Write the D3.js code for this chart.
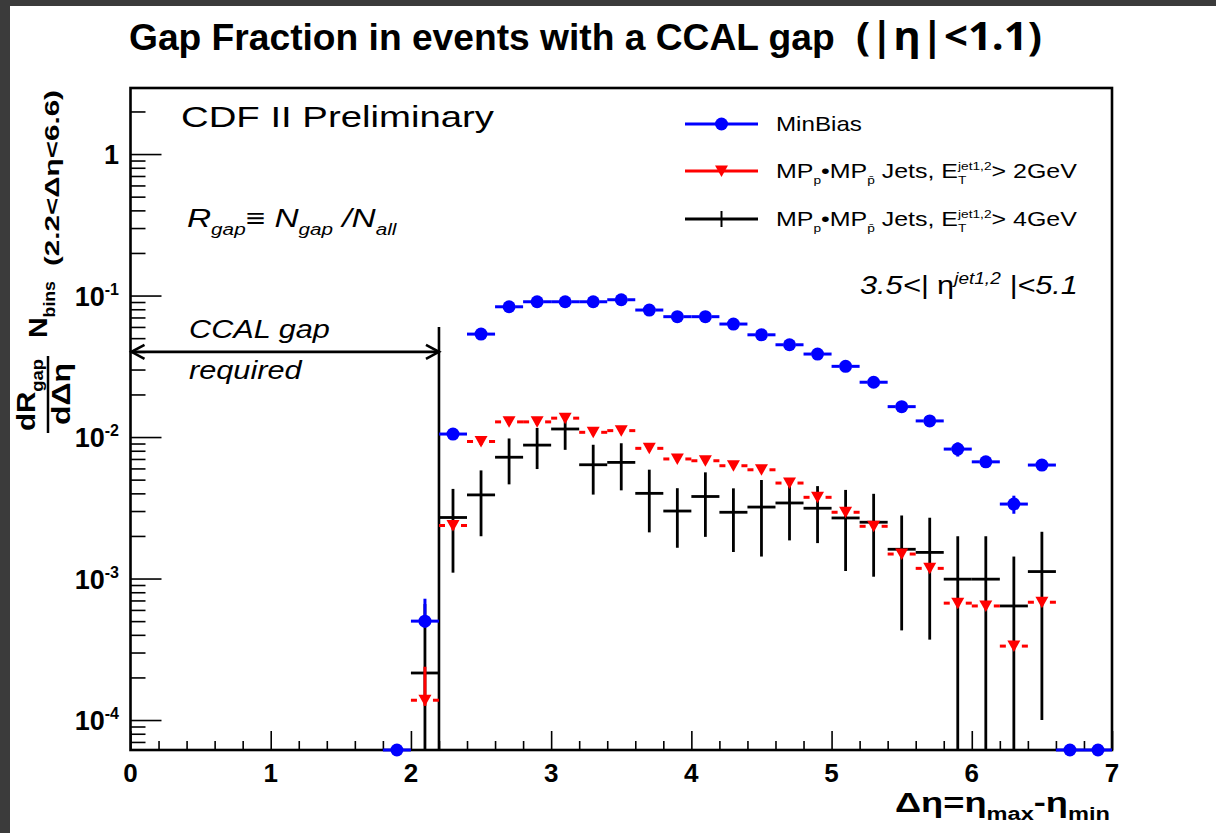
<!DOCTYPE html>
<html><head><meta charset="utf-8">
<script src="https://cdn.jsdelivr.net/npm/d3@7"></script>
<style>
html,body{margin:0;padding:0;background:#fff;}
svg{display:block;}
text{font-family:"Liberation Sans",Arial,Helvetica,sans-serif;white-space:pre;}
</style></head><body>
<svg id="chart" width="1216" height="833"></svg>
<script>
// ---------------- data ----------------
const binCenters = [1.9,2.1,2.3,2.5,2.7,2.9,3.1,3.3,3.5,3.7,3.9,4.1,4.3,4.5,4.7,4.9,5.1,5.3,5.5,5.7,5.9,6.1,6.3,6.5,6.7,6.9];
const binHalfWidth = 0.1;
const minBias      = [0,5.0e-4,1.05e-2,5.34e-2,8.33e-2,9.04e-2,9.04e-2,9.04e-2,9.34e-2,7.9e-2,7.09e-2,7.09e-2,6.29e-2,5.28e-2,4.49e-2,3.86e-2,3.16e-2,2.44e-2,1.64e-2,1.30e-2,8.22e-3,6.68e-3,3.36e-3,6.34e-3,0,0];
const minBiasErrUp   = [0,2.2e-4,3e-4,1e-3,1.5e-3,1.5e-3,1.5e-3,1.5e-3,1.5e-3,1.3e-3,1.2e-3,1.2e-3,1.1e-3,1e-3,9e-4,8e-4,7e-4,6e-4,5e-4,4.5e-4,9.4e-4,5e-4,4.9e-4,5e-4,0,0];
const minBiasErrDown = [0,5e-5,3e-4,1e-3,1.5e-3,1.5e-3,1.5e-3,1.5e-3,1.5e-3,1.3e-3,1.2e-3,1.2e-3,1.1e-3,1e-3,9e-4,8e-4,7e-4,6e-4,5e-4,4.5e-4,9.4e-4,5e-4,4.9e-4,5e-4,0,0];
const jets2GeV        = [null,1.38e-4,2.37e-3,9.3e-3,1.28e-2,1.28e-2,1.36e-2,1.08e-2,1.11e-2,8.32e-3,7.0e-3,6.8e-3,6.27e-3,5.87e-3,4.73e-3,3.75e-3,2.94e-3,2.34e-3,1.49e-3,1.18e-3,6.7e-4,6.4e-4,3.33e-4,6.8e-4,null,null];
const jets2GeVErrUp   = [null,1.0e-4,1.6e-4,5e-4,6e-4,6e-4,6e-4,5e-4,5e-4,4e-4,3.5e-4,3.4e-4,3.1e-4,2.9e-4,2.4e-4,1.9e-4,1.5e-4,1.2e-4,8e-5,6e-5,3.5e-5,3.3e-5,1.8e-5,3.5e-5,null,null];
const jets2GeVErrDown = [null,1.2e-5,1.6e-4,5e-4,6e-4,6e-4,6e-4,5e-4,5e-4,4e-4,3.5e-4,3.4e-4,3.1e-4,2.9e-4,2.4e-4,1.9e-4,1.5e-4,1.2e-4,8e-5,6e-5,3.5e-5,3.3e-5,1.8e-5,3.5e-5,null,null];
const jets4GeV    = [null,2.15e-4,2.7e-3,3.9e-3,7.2e-3,8.77e-3,1.14e-2,6.37e-3,6.62e-3,4.0e-3,3.0e-3,3.8e-3,2.94e-3,3.2e-3,3.42e-3,3.14e-3,2.68e-3,2.5e-3,1.61e-3,1.53e-3,9.9e-4,9.9e-4,6.4e-4,1.12e-3,null,null];
const jets4GeVErr = [null,4.45e-4,1.6e-3,1.91e-3,2.57e-3,2.83e-3,3.28e-3,2.45e-3,2.42e-3,1.88e-3,1.35e-3,1.83e-3,1.4e-3,1.77e-3,1.56e-3,1.36e-3,1.55e-3,1.47e-3,1.18e-3,1.16e-3,1.0e-3,1.0e-3,7.9e-4,1.02e-3,null,null];
const xTicks = [0,1,2,3,4,5,6,7];
const yTickExps = [-4,-3,-2,-1,0];
const xDomain = [0,7];
const yDomain = [6.14e-5, 2.93];
const gapEdge = 2.2, gapLineTop = 0.06, arrowLevel = 0.04;

// ---------------- setup ----------------
const svg = d3.select("#chart");
svg.append("rect").attr("width",1216).attr("height",833).attr("fill","#3b3b3b");
svg.append("rect").attr("x",10).attr("y",6).attr("width",1206).attr("height",827).attr("fill","#fff");

const x = d3.scaleLinear().domain(xDomain).range([130.5,1112]);
const y = d3.scaleLog().domain(yDomain).range([750,88]).clamp(true);
const yb = y.range()[0];
const yv = v => v > 0 ? y(v) : yb;

function fitWidth(sel, left, width){
  const bb = sel.node().getBBox();
  const s = width / bb.width;
  sel.attr("transform", `translate(${left},0) scale(${s},1) translate(${-bb.x},0)`);
}
function rich(parent, px, py, fs, parts, attrs){
  const t = parent.append("text").attr("x",px).attr("y",py).attr("font-size",fs);
  if (attrs) for (const k in attrs) t.attr(k, attrs[k]);
  let cur = 0, lastSupW = 0, pendingDx = 0;
  parts.forEach(p => {
    const kind = p.k || "n";
    const size = kind === "n" ? fs : fs*(p.r || 0.62);
    const off = kind === "sup" ? -fs*0.4 : (kind === "sub" || kind === "stack") ? fs*0.3 : 0;
    const ts = t.append("tspan").text(p.t).attr("font-size", size).attr("dy", off - cur);
    if (p.style) ts.attr("font-style", p.style);
    cur = off;
    let dx = pendingDx; pendingDx = 0;
    if (kind === "stack") dx -= lastSupW;
    if (dx) ts.attr("dx", dx);
    const w = ts.node().getComputedTextLength();
    if (kind === "sup") lastSupW = w;
    if (kind === "stack") pendingDx = Math.max(0, lastSupW - w);
  });
  return t;
}

// ---------------- frame & axes ----------------
const gx = svg.append("g");
gx.append("g").attr("transform",`translate(0,${yb})`)
  .call(d3.axisBottom(x).tickValues(xTicks).tickSize(-19).tickFormat(""))
  .call(g => g.select(".domain").remove())
  .selectAll("line").attr("stroke","#000").attr("stroke-width",1.6);
const xMinor = d3.range(1,35).map(i => i*0.2).filter(v => Math.abs(v-Math.round(v))>1e-6);
gx.append("g").attr("transform",`translate(0,${yb})`)
  .call(d3.axisBottom(x).tickValues(xMinor).tickSize(-9).tickFormat(""))
  .call(g => g.select(".domain").remove())
  .selectAll("line").attr("stroke","#000").attr("stroke-width",1.6);

const yMajor = yTickExps.map(e => Math.pow(10,e));
const yMinor = [];
for (let e=-5; e<=0; e++) for (let k=2; k<=9; k++){ const v=k*Math.pow(10,e); if (v>yDomain[0] && v<yDomain[1]) yMinor.push(v); }
const gy = svg.append("g").attr("transform",`translate(${x.range()[0]},0)`);
gy.append("g").call(d3.axisLeft(y).tickValues(yMajor).tickSize(-31).tickFormat(""))
  .call(g => g.select(".domain").remove())
  .selectAll("line").attr("stroke","#000").attr("stroke-width",1.6);
gy.append("g").call(d3.axisLeft(y).tickValues(yMinor).tickSize(-15).tickFormat(""))
  .call(g => g.select(".domain").remove())
  .selectAll("line").attr("stroke","#000").attr("stroke-width",1.6);

svg.append("rect").attr("x",x.range()[0]).attr("y",y.range()[1])
  .attr("width",x.range()[1]-x.range()[0]).attr("height",yb-y.range()[1])
  .attr("fill","none").attr("stroke","#000").attr("stroke-width",2.6);

// tick labels
xTicks.forEach(t => {
  svg.append("text").attr("x",x(t)).attr("y",yb+32).attr("text-anchor","middle")
    .attr("font-size",26).attr("font-weight","bold").text(t);
});
yTickExps.forEach(e => {
  const yy = y(Math.pow(10,e)) + 10;
  if (e === 0) {
    svg.append("text").attr("x",119).attr("y",yy).attr("text-anchor","end")
      .attr("font-size",27).attr("font-weight","bold").text("1");
  } else {
    const t = svg.append("text").attr("x",119).attr("y",yy).attr("text-anchor","end")
      .attr("font-size",27).attr("font-weight","bold");
    t.append("tspan").text("10");
    t.append("tspan").attr("font-size",16).attr("dy",-11).text(String(e));
  }
});

// axis titles
const xt = rich(svg, 0, 812, 27, [
  {t:"Δη=η"},{t:"max",k:"sub",r:0.65},{t:"-η"},{t:"min",k:"sub",r:0.65}
], {"font-weight":"bold"});
fitWidth(xt, 895, 215);

const gyl = svg.append("g").attr("transform","rotate(-90)");
const numr = rich(gyl, 0, 35, 26, [{t:"dR"},{t:"gap",k:"sub"}], {"font-weight":"bold"});
fitWidth(numr, -431, 72);
gyl.append("line").attr("x1",-433).attr("x2",-356).attr("y1",48).attr("y2",48)
  .attr("stroke","#000").attr("stroke-width",2.5);
const denr = rich(gyl, 0, 70, 26, [{t:"dΔη"}], {"font-weight":"bold"});
fitWidth(denr, -425, 62);
const nb = rich(gyl, 0, 47, 26, [{t:"N"},{t:"bins",k:"sub"}], {"font-weight":"bold"});
fitWidth(nb, -338, 57);
gyl.append("text").attr("x",-266).attr("y",59).attr("font-size",20).attr("font-weight","bold")
  .attr("textLength",176).attr("lengthAdjust","spacingAndGlyphs").text("(2.2<Δη<6.6)");

// ---------------- title & annotations ----------------
const title = svg.append("text").attr("x",0).attr("y",50).attr("font-size",37).attr("font-weight","bold")
  .text("Gap Fraction in events with a CCAL gap");
fitWidth(title, 129, 706);
const eta = svg.append("text").attr("x",0).attr("y",50).attr("font-size",40).attr("font-weight","bold")
  .style("font-family","'Open Sans','DejaVu Sans',sans-serif").text("(|η|<1.1)");
fitWidth(eta, 856, 186);

const cdf = svg.append("text").attr("x",0).attr("y",127).attr("font-size",30).text("CDF II Preliminary");
fitWidth(cdf, 181, 313);

const rg = rich(svg, 0, 227, 26, [
  {t:"R"},{t:"gap",k:"sub"},{t:"≡ N"},{t:"gap",k:"sub"},{t:" /N"},{t:"all",k:"sub"}
], {"font-style":"italic"});
fitWidth(rg, 187, 210);

const cc1 = svg.append("text").attr("x",0).attr("y",338).attr("font-size",25).attr("font-style","italic").text("CCAL gap");
fitWidth(cc1, 189, 141);
const cc2 = svg.append("text").attr("x",0).attr("y",379).attr("font-size",25).attr("font-style","italic").text("required");
fitWidth(cc2, 189, 114);

const etaJet = rich(svg, 0, 294, 26, [
  {t:"3.5<| "},{t:"η",style:"normal"},{t:"jet1,2",k:"sup",r:0.62},{t:" |<5.1"}
], {"font-style":"italic"});
fitWidth(etaJet, 860, 218);

// CCAL gap boundary line & arrow
const ann = svg.append("g").attr("stroke","#000").attr("stroke-width",2.6).attr("fill","none");
ann.append("line").attr("x1",x(gapEdge)).attr("x2",x(gapEdge)).attr("y1",y(gapLineTop)).attr("y2",yb);
const ay = y(arrowLevel), ax0 = x(0)+1, ax1 = x(gapEdge);
ann.append("line").attr("x1",ax0).attr("x2",ax1).attr("y1",ay).attr("y2",ay);
ann.append("path").attr("d",`M${ax0+13},${ay-7}L${ax0},${ay}L${ax0+13},${ay+7}`);
ann.append("path").attr("d",`M${ax1-13},${ay-7}L${ax1},${ay}L${ax1-13},${ay+7}`);

// ---------------- data series ----------------
const blue = "#0000ff", red = "#ff0000";
function drawSeries(vals, errUp, errDown, color, lw, gap, marker){
  const g = svg.append("g");
  vals.forEach((v,i) => {
    if (v === null) return;
    const c = binCenters[i], py = yv(v), cx = x(c);
    const xl = x(c-binHalfWidth), xr = x(c+binHalfWidth);
    if (gap > 0){
      g.append("line").attr("x1",xl).attr("x2",cx-gap).attr("y1",py).attr("y2",py).attr("stroke",color).attr("stroke-width",lw);
      g.append("line").attr("x1",cx+gap).attr("x2",xr).attr("y1",py).attr("y2",py).attr("stroke",color).attr("stroke-width",lw);
    } else {
      g.append("line").attr("x1",xl).attr("x2",xr).attr("y1",py).attr("y2",py).attr("stroke",color).attr("stroke-width",lw);
    }
    const eu = errUp[i] || 0, ed = errDown[i] || 0;
    if (v > 0 && (eu > 0 || ed > 0)){
      g.append("line").attr("x1",cx).attr("x2",cx).attr("y1",yv(v+eu)).attr("y2",yv(v-ed))
        .attr("stroke",color).attr("stroke-width",lw);
    }
    if (marker) marker(g, cx, py);
  });
}
const circle = (g,cx,cy) => g.append("circle").attr("cx",cx).attr("cy",cy).attr("r",6.5).attr("fill",blue);
const tri = (g,cx,cy) => g.append("path").attr("d",`M${cx-6.5},${cy-5.5}L${cx+6.5},${cy-5.5}L${cx},${cy+6}Z`).attr("fill",red);

drawSeries(jets4GeV, jets4GeVErr, jets4GeVErr, "#000", 2.8, 0, null);
drawSeries(jets2GeV, jets2GeVErrUp, jets2GeVErrDown, red, 3, 8, tri);
drawSeries(minBias, minBiasErrUp, minBiasErrDown, blue, 3, 6, circle);

// ---------------- legend ----------------
const lg = svg.append("g");
const lx0 = 685, lx1 = 758, lxc = (lx0+lx1)/2;
const lys = [124, 171, 219];
lg.append("line").attr("x1",lx0).attr("x2",lx1).attr("y1",lys[0]).attr("y2",lys[0]).attr("stroke",blue).attr("stroke-width",3);
circle(lg, lxc, lys[0]);
lg.append("line").attr("x1",lx0).attr("x2",lx1).attr("y1",lys[1]).attr("y2",lys[1]).attr("stroke",red).attr("stroke-width",3);
tri(lg, lxc, lys[1]);
lg.append("line").attr("x1",lx0).attr("x2",lx1).attr("y1",lys[2]).attr("y2",lys[2]).attr("stroke","#000").attr("stroke-width",3);
lg.append("line").attr("x1",lxc).attr("x2",lxc).attr("y1",lys[2]-8).attr("y2",lys[2]+8).attr("stroke","#000").attr("stroke-width",2);

const l1 = lg.append("text").attr("x",0).attr("y",131).attr("font-size",21).text("MinBias");
fitWidth(l1, 776, 86);
function jetLabel(yy, thr){
  return rich(lg, 0, yy, 21, [
    {t:"MP"},{t:"p",k:"sub",r:0.55},{t:"•MP"},{t:"p\u0304",k:"sub",r:0.55},{t:" Jets, E"},
    {t:"jet1,2",k:"sup",r:0.55},{t:"T",k:"stack",r:0.55},{t:"> " + thr}
  ]);
}
const l2 = jetLabel(178, "2GeV"); fitWidth(l2, 776, 301);
const l3 = jetLabel(226, "4GeV"); fitWidth(l3, 776, 301);
</script>
</body></html>
